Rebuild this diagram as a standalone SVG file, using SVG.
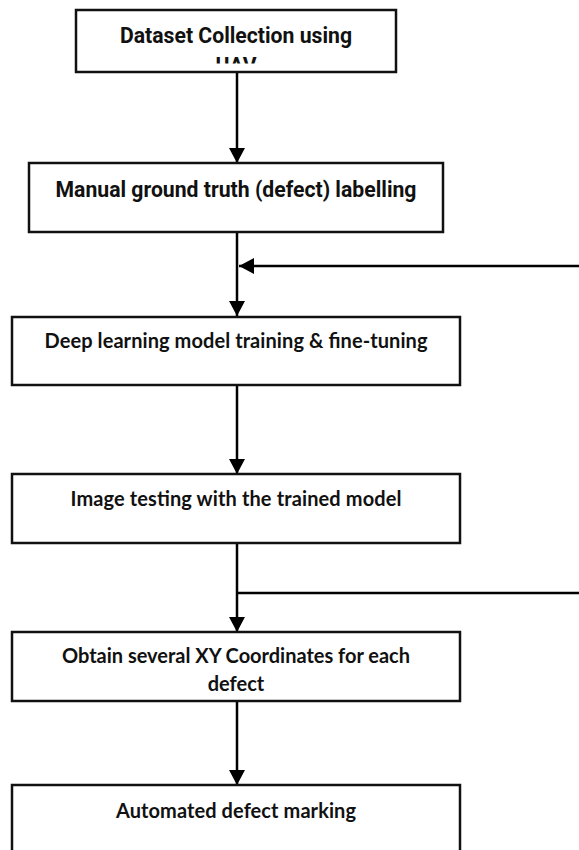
<svg xmlns="http://www.w3.org/2000/svg" width="579" height="850" viewBox="0 0 579 850">
  <style>
    .box { fill: #fff; stroke: #111; stroke-width: 2.5; }
    .edge { fill: none; stroke: #000; stroke-width: 2.5; }
    .t1 { font-family: Roboto, "Liberation Sans", sans-serif; font-weight: 700; font-size: 21.2px; fill: #111; text-anchor: middle; }
    .t2 { font-family: Lato, "Liberation Sans", sans-serif; font-weight: 700; font-size: 20px; fill: #111; text-anchor: middle; }
  </style>
  <defs>
    <marker id="head" viewBox="0 0 15 16" refX="15" refY="8" markerWidth="15" markerHeight="16" markerUnits="userSpaceOnUse" orient="auto">
      <path d="M0,0 L15,8 L0,16 Z" fill="#000"/>
    </marker>
    <clipPath id="clip-dataset">
      <rect x="76" y="10" width="320" height="53.5"/>
    </clipPath>
  </defs>

  <rect width="579" height="850" fill="#fff"/>

  <!-- connectors -->
  <g id="connectors">
    <line class="edge" x1="237" y1="72" x2="237" y2="163" marker-end="url(#head)"/>
    <line class="edge" x1="237" y1="232" x2="237" y2="316" marker-end="url(#head)"/>
    <line class="edge" x1="579" y1="266" x2="239" y2="266" marker-end="url(#head)"/>
    <line class="edge" x1="237" y1="385" x2="237" y2="474" marker-end="url(#head)"/>
    <line class="edge" x1="237" y1="543" x2="237" y2="632" marker-end="url(#head)"/>
    <line class="edge" x1="237" y1="593" x2="579" y2="593"/>
    <line class="edge" x1="237" y1="701" x2="237" y2="785" marker-end="url(#head)"/>
  </g>

  <!-- nodes -->
  <g id="dataset-collection">
    <rect class="box" x="76" y="10" width="320" height="62"/>
    <g clip-path="url(#clip-dataset)">
      <text class="t1" x="236" y="43">Dataset Collection using</text>
      <text class="t1" x="236" y="73">UAV</text>
    </g>
  </g>

  <g id="ground-truth">
    <rect class="box" x="29" y="163" width="414" height="69"/>
    <text class="t1" x="236" y="197">Manual ground truth (defect) labelling</text>
  </g>

  <g id="model-training">
    <rect class="box" x="12" y="317" width="448" height="68"/>
    <text class="t2" x="236" y="348" textLength="383" lengthAdjust="spacing">Deep learning model training &amp; fine-tuning</text>
  </g>

  <g id="image-testing">
    <rect class="box" x="12" y="474" width="448" height="69"/>
    <text class="t2" x="236" y="506" textLength="331" lengthAdjust="spacing">Image testing with the trained model</text>
  </g>

  <g id="xy-coordinates">
    <rect class="box" x="12" y="632" width="448" height="69"/>
    <text class="t2" x="236" y="663" textLength="348" lengthAdjust="spacing">Obtain several XY Coordinates for each</text>
    <text class="t2" x="236" y="691">defect</text>
  </g>

  <g id="defect-marking">
    <rect class="box" x="12" y="785" width="448" height="80"/>
    <text class="t2" x="236" y="818" textLength="240" lengthAdjust="spacing">Automated defect marking</text>
  </g>
</svg>
